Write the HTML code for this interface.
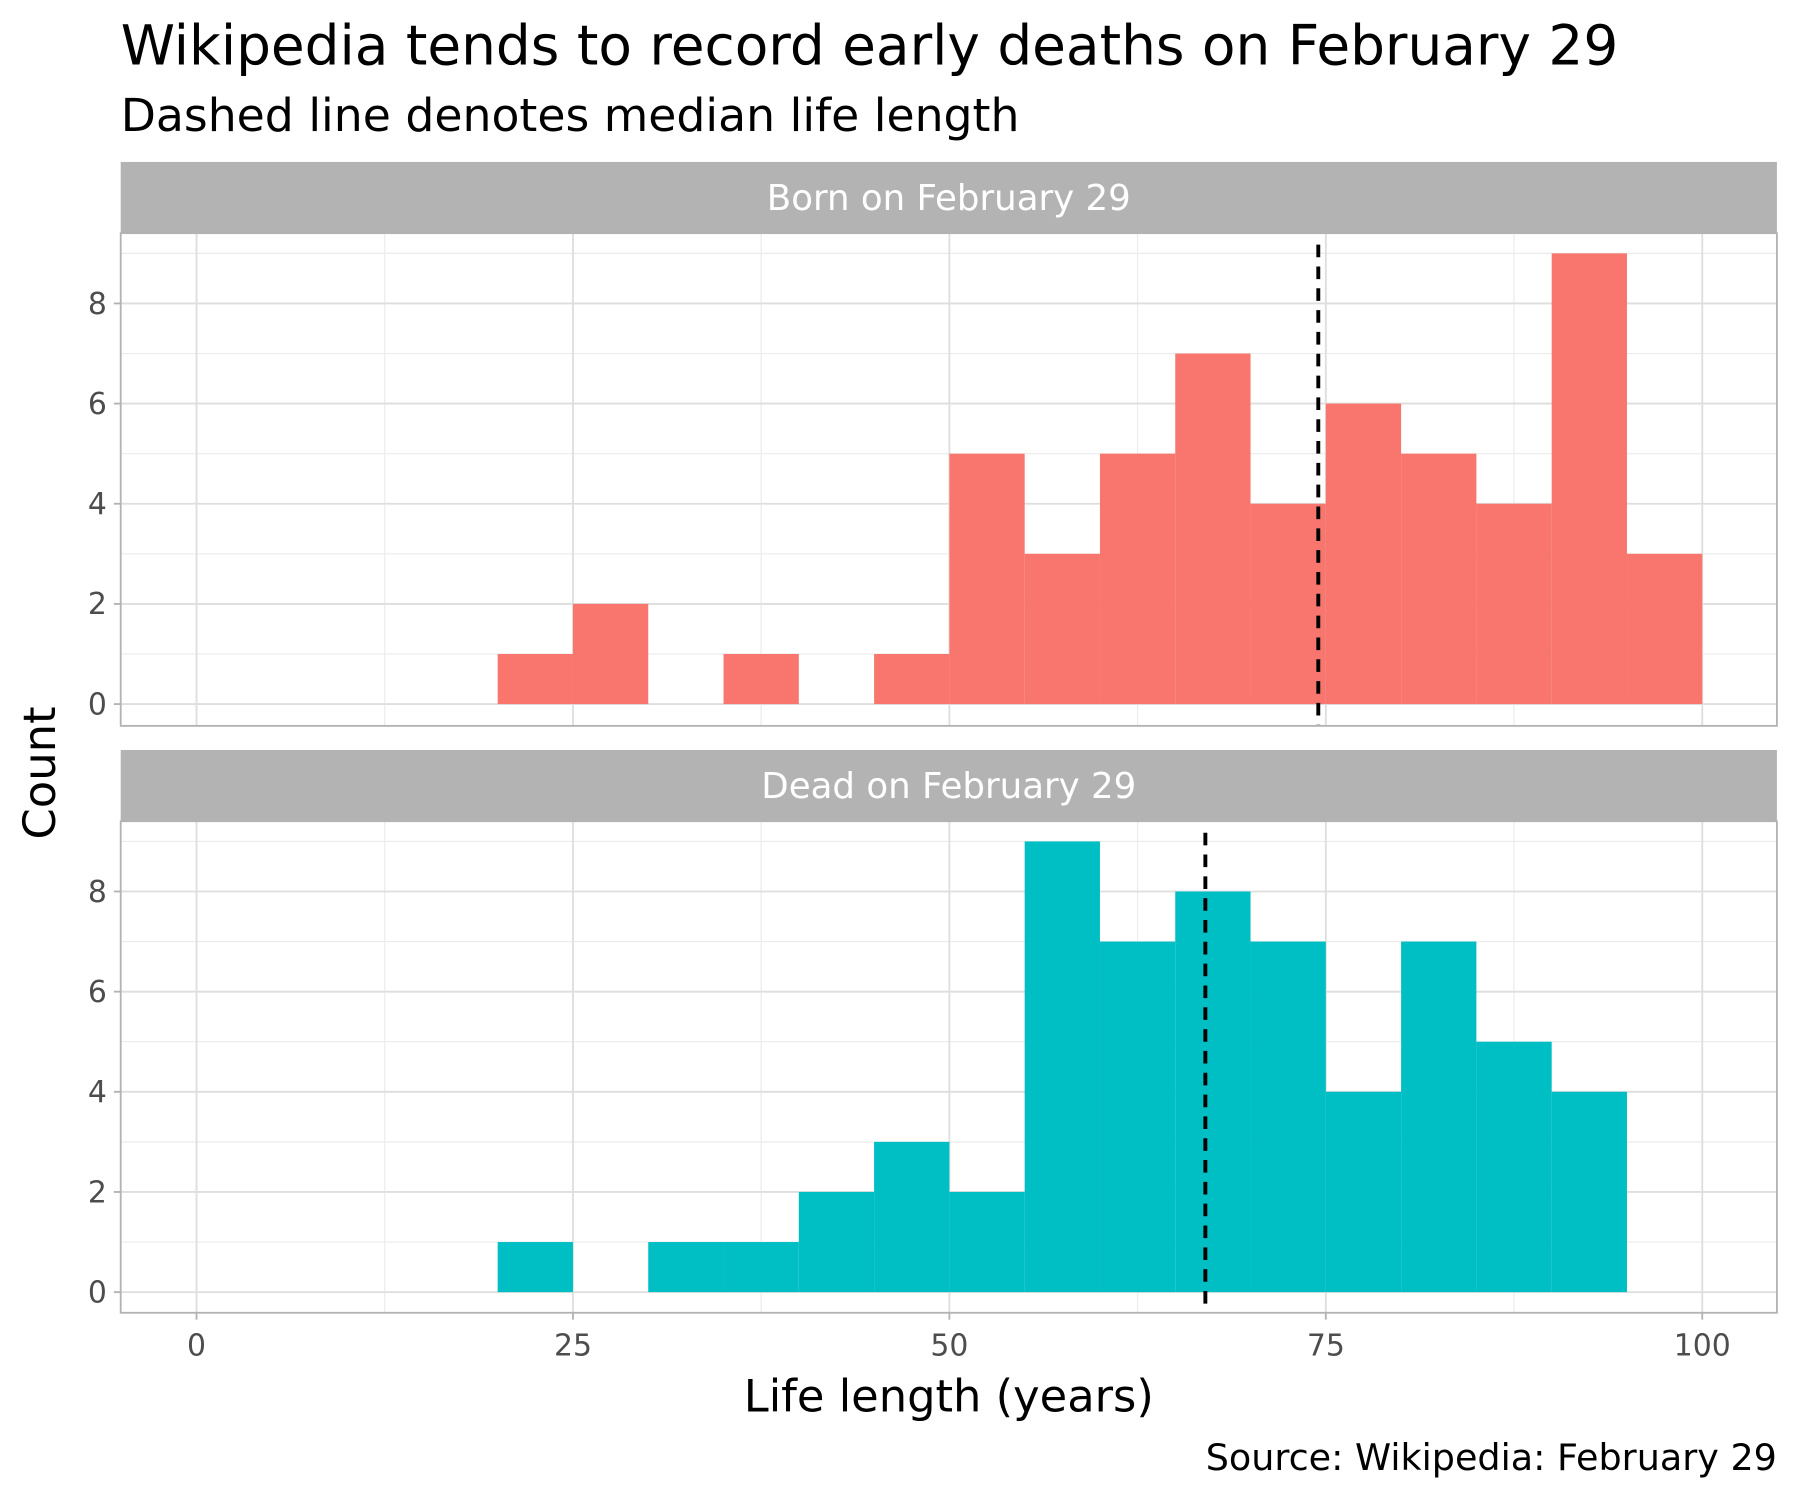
<!DOCTYPE html>
<html><head><meta charset="utf-8"><style>body{margin:0;background:#fff}svg{display:block}text{font-family:"DejaVu Sans","Liberation Sans",sans-serif}</style></head>
<body>
<svg id="c" width="1800" height="1500" viewBox="0 0 1567 1306">
<text x="105" y="56" font-size="47.8" fill="#000">Wikipedia tends to record early deaths on February 29</text>
<text x="105" y="114" font-size="39.8" fill="#000">Dashed line denotes median life length</text>
<text x="1547" y="1280" font-size="31.8" text-anchor="end" fill="#000">Source: Wikipedia: February 29</text>
<text x="826" y="1229" font-size="39" text-anchor="middle" fill="#000">Life length (years)</text>
<text transform="translate(48,673) rotate(-90)" font-size="39" text-anchor="middle" fill="#000">Count</text>
<g id="g"></g>
</svg>
<script>
const binStarts=[20,25,30,35,40,45,50,55,60,65,70,75,80,85,90,95];
const bornCounts=[1,2,0,1,0,1,5,3,5,7,4,6,5,4,9,3];
const deadCounts=[1,0,1,1,2,3,2,9,7,8,7,4,7,5,4,0];
const medians=[74.5,67];
const panelNames=["Born on February 29","Dead on February 29"];
const xTicks=[0,25,50,75,100];
const yTicks=[0,2,4,6,8];
const binWidth=5;
const colors=["#F8766D","#00BFC4"];
const NS="http://www.w3.org/2000/svg",g=document.getElementById('g');
function mk(t,a,p){const e=document.createElementNS(NS,t);for(const k in a)e.setAttribute(k,a[k]);(p||g).appendChild(e);return e;}
const L=105,R=1547;
const xs=v=>171+v*(1482-171)/100;
const panels=[{s:141,t:203,b:632,z:613},{s:653,t:715,b:1143,z:1125}];
[bornCounts,deadCounts].forEach((counts,pi)=>{
 const P=panels[pi];
 const yy=v=>P.z-v*43.6;
 const pg=mk('g',{});
 
 
 const strip=mk('rect',{x:L,y:P.s,width:R-L,height:P.t-P.s,fill:'#b3b3b3'},pg);
 
 const st=mk('text',{x:(L+R)/2,y:(P.s+P.t)/2+11,'font-size':31,'text-anchor':'middle',fill:'#fff'},pg);st.textContent=panelNames[pi];
 
 for(let v=12.5;v<=100;v+=25)mk('line',{x1:xs(v),x2:xs(v),y1:P.t,y2:P.b,stroke:'#ebebeb','stroke-width':1},pg);
 for(let v=1;v<=9;v+=2)mk('line',{x1:L,x2:R,y1:yy(v),y2:yy(v),stroke:'#ebebeb','stroke-width':1},pg);
 xTicks.forEach(v=>mk('line',{x1:xs(v),x2:xs(v),y1:P.t,y2:P.b,stroke:'#dedede','stroke-width':1.6},pg));
 yTicks.forEach(v=>{mk('line',{x1:L,x2:R,y1:yy(v),y2:yy(v),stroke:'#dedede','stroke-width':1.6},pg);
  mk('line',{x1:L-6,x2:L,y1:yy(v),y2:yy(v),stroke:'#b3b3b3','stroke-width':1.6},pg);
  const t=mk('text',{x:L-12,y:yy(v)+9,'font-size':26,'text-anchor':'end',fill:'#4d4d4d'},pg);t.textContent=v;
  });
 counts.forEach((c,i)=>{if(!c)return;const r=mk('rect',{x:xs(binStarts[i]),y:yy(c),width:xs(binStarts[i]+binWidth)-xs(binStarts[i]),height:yy(0)-yy(c),fill:colors[pi]},pg);
  });
 const m=mk('line',{x1:xs(medians[pi]),x2:xs(medians[pi]),y1:P.t+10,y2:P.b,stroke:'#000','stroke-width':3.4,'stroke-dasharray':'11,8'},pg);
 
 mk('rect',{x:L,y:P.t,width:R-L,height:P.b-P.t,fill:'none',stroke:'#b3b3b3','stroke-width':1.6},pg);
});
xTicks.forEach(v=>{mk('line',{x1:xs(v),x2:xs(v),y1:1143,y2:1149,stroke:'#b3b3b3','stroke-width':1.6});
 const t=mk('text',{x:xs(v),y:1180,'font-size':26,'text-anchor':'middle',fill:'#4d4d4d'});t.textContent=v;
 });
</script>
</body></html>
